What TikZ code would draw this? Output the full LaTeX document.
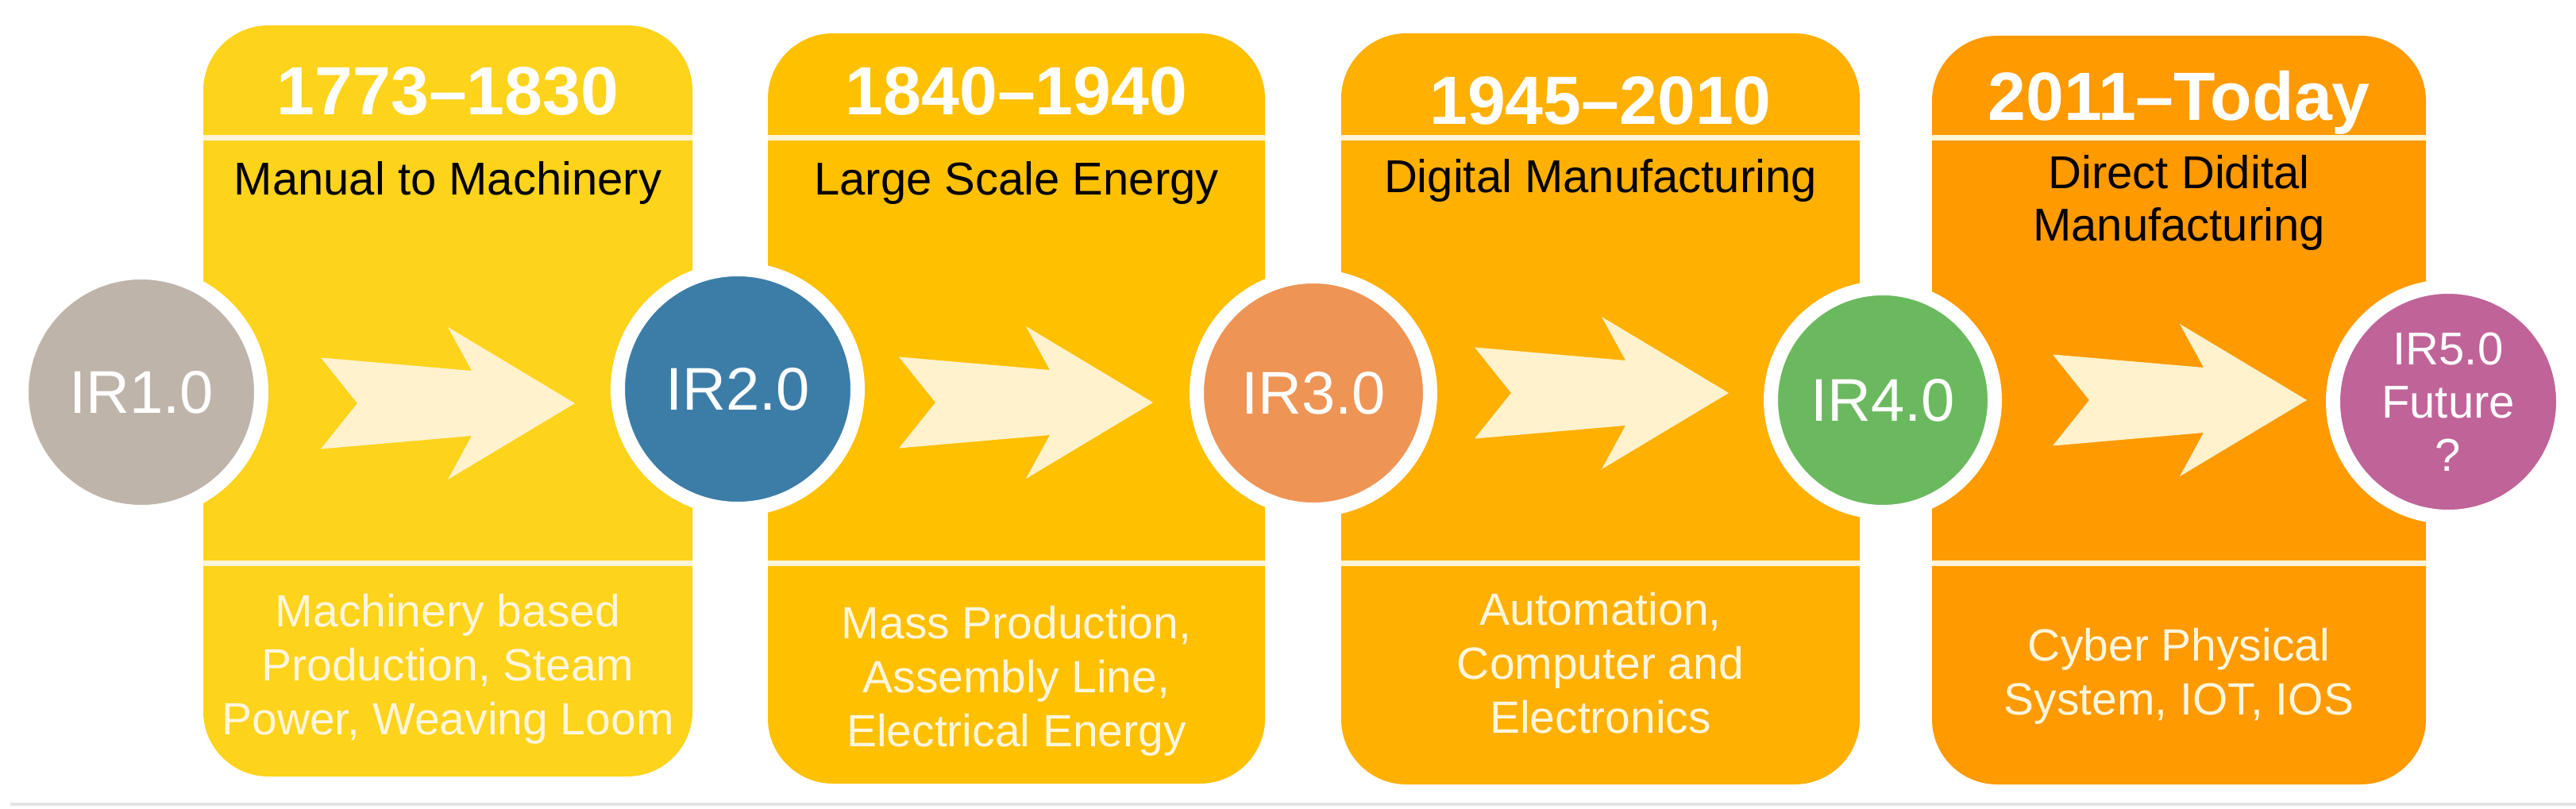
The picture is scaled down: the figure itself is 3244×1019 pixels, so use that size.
\documentclass[tikz,border=0pt]{standalone}
\usepackage{fontspec}
\setmainfont{Liberation Sans}
\definecolor{boxA}{HTML}{FDD31C}
\definecolor{boxB}{HTML}{FFC000}
\definecolor{boxC}{HTML}{FFB000}
\definecolor{boxD}{HTML}{FF9A00}
\definecolor{arrowfill}{HTML}{FFF2CC}
\definecolor{divline}{HTML}{FFF3D8}
\definecolor{irA}{HTML}{BFB4AA}
\definecolor{irB}{HTML}{3C7DA8}
\definecolor{irC}{HTML}{EE9455}
\definecolor{irD}{HTML}{6BB95E}
\definecolor{irE}{HTML}{C06398}
\definecolor{desctext}{HTML}{FFF6DC}
\definecolor{rulegray}{HTML}{E4E4E4}
\begin{document}
\begin{tikzpicture}[x=1pt,y=-1pt,
  panel/.style={rectangle, draw=none, rounded corners=82pt, inner sep=0pt},
  divider/.style={draw=divline, line width=7pt},
  irnode/.style={circle, draw=white, line width=18pt, inner sep=0pt, text=white, align=center},
  yeartext/.style={text=white, font=\fontsize{86}{86}\selectfont\bfseries, anchor=base},
  subtext/.style={text=black, font=\fontsize{58}{66}\selectfont, anchor=base, align=center},
  desc/.style={text=desctext, font=\fontsize{57}{68}\selectfont, anchor=base, align=center},
  blockarrow/.pic={\fill[arrowfill] (0,-57.5) -- (190,-41) -- (160,-96) -- (320,0) -- (160,96) -- (190,41) -- (0,57.5) -- (46,0) -- cycle;}
]
\useasboundingbox[fill=white] (0,0) rectangle (3244,1019);

% bottom rule
\coordinate (gl) at (13,1013);
\coordinate (gr) at (3244,1013);
\draw[draw=rulegray, line width=4pt] (gl) -- (gr);

% panels
\node[panel, fill=boxA, minimum width=616pt, minimum height=946pt] (b1) at (564,505) {};
\node[panel, fill=boxB, minimum width=626pt, minimum height=945pt] (b2) at (1280,514.5) {};
\node[panel, fill=boxC, minimum width=653pt, minimum height=946pt] (b3) at (2015.5,515) {};
\node[panel, fill=boxD, minimum width=622pt, minimum height=943pt] (b4) at (2744,516.5) {};

% dividers
\foreach \b in {b1,b2,b3,b4}{
  \draw[divider] (\b.west |- 0,174) -- (\b.east |- 0,174);
  \draw[divider] (\b.west |- 0,709) -- (\b.east |- 0,709);
}

% block arrows
\pic at (404,508) {blockarrow};
\pic at (1132,507) {blockarrow};
\pic at (1857,495) {blockarrow};
\pic at (2585,504) {blockarrow};

% circles
\node[irnode, fill=irA, minimum size=302pt, font=\fontsize{76}{76}\selectfont] (ir1) at (178,494) {IR1.0};
\node[irnode, fill=irB, minimum size=302pt, font=\fontsize{76}{76}\selectfont] (ir2) at (929,490) {IR2.0};
\node[irnode, fill=irC, minimum size=294pt, font=\fontsize{76}{76}\selectfont] (ir3) at (1654,495) {IR3.0};
\node[irnode, fill=irD, minimum size=282pt, font=\fontsize{76}{76}\selectfont] (ir4) at (2371,504) {IR4.0};
\node[irnode, fill=irE, minimum size=290pt, font=\fontsize{58}{67}\selectfont] (ir5) at (3083,506) {IR5.0\\Future\\?};

% years
\node[yeartext] (y1) at (b1.center |- 0,145) {1773--1830};
\node[yeartext] (y2) at (b2.center |- 0,145) {1840--1940};
\node[yeartext] (y3) at (b3.center |- 0,157) {1945--2010};
\node[yeartext] (y4) at (b4.center |- 0,152) {2011--Today};

% subtitles (base anchor = baseline of last line)
\node[subtext] (s1) at (b1.center |- 0,245) {Manual to Machinery};
\node[subtext] (s2) at (b2.center |- 0,245) {Large Scale Energy};
\node[subtext] (s3) at (b3.center |- 0,242) {Digital Manufacturing};
\node[subtext] (s4) at (b4.center |- 0,303) {Direct Didital\\Manufacturing};

% descriptions (base anchor = baseline of last line)
\node[desc] (d1) at (b1.center |- 0,925) {Machinery based\\Production, Steam\\Power, Weaving Loom};
\node[desc] (d2) at (b2.center |- 0,940) {Mass Production,\\Assembly Line,\\Electrical Energy};
\node[desc] (d3) at (b3.center |- 0,923) {Automation,\\Computer and\\Electronics};
\node[desc] (d4) at (b4.center |- 0,900) {Cyber Physical\\System, IOT, IOS};
\end{tikzpicture}
\end{document}
